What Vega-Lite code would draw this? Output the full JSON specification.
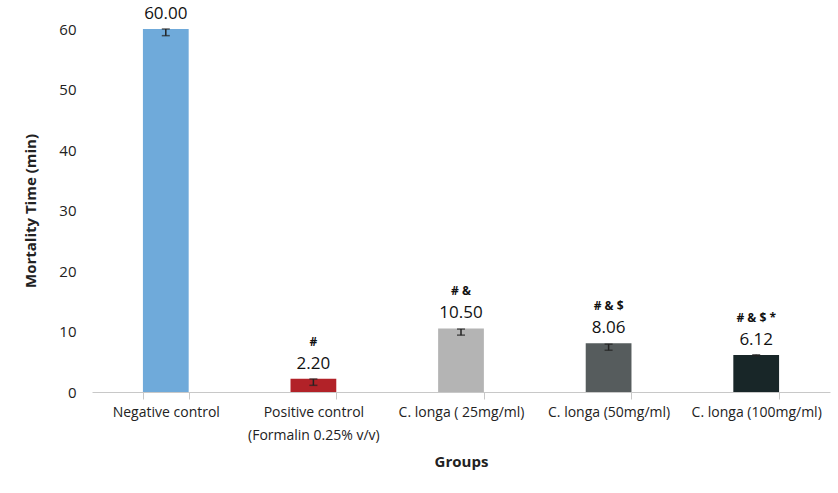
{
  "$schema": "https://vega.github.io/schema/vega-lite/v6.json",
  "autosize": {"type": "none"},
  "width": 738,
  "height": 363,
  "padding": {"left": 92, "top": 29, "right": 8, "bottom": 101},
  "background": "white",
  "config": {
    "view": {"stroke": null},
    "font": "Open Sans",
    "axis": {"labelFont": "Open Sans", "titleFont": "Open Sans", "labelColor": "#222222", "titleColor": "#222222"}
  },
  "data": {
    "values": [
      {"group": "Negative control", "value": 60.0, "lo": 58.9, "hi": 60.0, "label": "60.00", "sig": ""},
      {"group": "Positive control (Formalin 0.25% v/v)", "value": 2.2, "lo": 1.1, "hi": 2.15, "label": "2.20", "sig": "#"},
      {"group": "C. longa ( 25mg/ml)", "value": 10.5, "lo": 9.4, "hi": 10.4, "label": "10.50", "sig": "# &"},
      {"group": "C. longa (50mg/ml)", "value": 8.06, "lo": 6.9, "hi": 7.9, "label": "8.06", "sig": "# & $"},
      {"group": "C. longa (100mg/ml)", "value": 6.12, "lo": 5.95, "hi": 6.15, "label": "6.12", "sig": "# & $ *"}
    ]
  },
  "encoding": {
    "x": {
      "field": "group",
      "type": "nominal",
      "sort": null,
      "title": "Groups",
      "scale": {"paddingInner": 0.69, "paddingOuter": 0.345},
      "axis": {
        "labelAngle": 0,
        "labelFontSize": 14,
        "labelPadding": 6,
        "labelLineHeight": 23,
        "labelExpr": "datum.value == 'Positive control (Formalin 0.25% v/v)' ? ['Positive control', '(Formalin 0.25% v/v)'] : datum.label",
        "tickBand": "extent",
        "tickSize": 7,
        "tickColor": "#c8c8c8",
        "domainColor": "#c8c8c8",
        "titleFontSize": 15,
        "titleFontWeight": "bold",
        "titlePadding": 12
      }
    }
  },
  "layer": [
    {
      "mark": {"type": "bar"},
      "encoding": {
        "y": {
          "field": "value",
          "type": "quantitative",
          "title": "Mortality Time (min)",
          "scale": {"domain": [0, 60], "nice": false},
          "axis": {
            "values": [0, 10, 20, 30, 40, 50, 60],
            "grid": false,
            "domain": false,
            "ticks": false,
            "labelFontSize": 15,
            "labelPadding": 16,
            "titleFontSize": 15,
            "titleFontWeight": "bold",
            "titlePadding": 20
          }
        },
        "color": {
          "field": "group",
          "type": "nominal",
          "legend": null,
          "scale": {
            "domain": ["Negative control", "Positive control (Formalin 0.25% v/v)", "C. longa ( 25mg/ml)", "C. longa (50mg/ml)", "C. longa (100mg/ml)"],
            "range": ["#6FAADA", "#B22228", "#B4B4B4", "#565C5D", "#182628"]
          }
        }
      }
    },
    {
      "mark": {"type": "errorbar", "ticks": {"size": 8, "thickness": 1.5}, "rule": {"strokeWidth": 1.5}, "color": "#222222"},
      "encoding": {
        "y": {"field": "lo", "type": "quantitative", "title": "Mortality Time (min)"},
        "y2": {"field": "hi"}
      }
    },
    {
      "mark": {"type": "text", "fontSize": 17, "baseline": "middle", "dy": -15, "color": "#111111"},
      "encoding": {
        "y": {"field": "value", "type": "quantitative", "title": "Mortality Time (min)"},
        "text": {"field": "label"}
      }
    },
    {
      "mark": {"type": "text", "fontSize": 12, "fontWeight": "bold", "baseline": "middle", "dy": -37, "color": "#111111"},
      "encoding": {
        "y": {"field": "value", "type": "quantitative", "title": "Mortality Time (min)"},
        "text": {"field": "sig"}
      }
    }
  ]
}
